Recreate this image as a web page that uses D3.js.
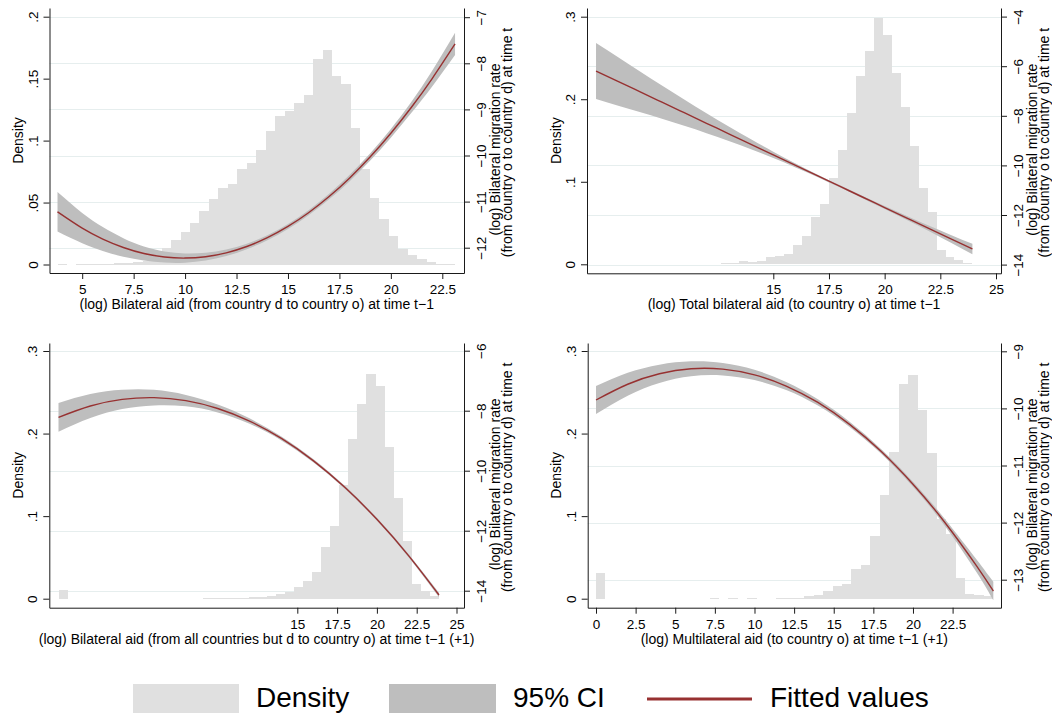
<!DOCTYPE html>
<html>
<head>
<meta charset="utf-8">
<script src="https://cdn.jsdelivr.net/npm/d3@7"></script>
<style>
  body { margin: 0; background: #fff; }
  svg { display: block; font-family: "Liberation Sans", Arial, Helvetica, sans-serif; }
  .axis path, .axis line { stroke: #1a1a1a; }
  .axis text { fill: #000; font-size: 13.5px; font-family: "Liberation Sans", Arial, sans-serif; }
  .title { fill: #000; font-size: 14px; }
  .legend { fill: #000; font-size: 28px; }
</style>
</head>
<body>
<svg id="chart" width="1052" height="713"></svg>
<script>
// histogram densities, 42 bins per panel
const bilatDensity = [0.0008, 0, 0.0008, 0.0003, 0.0005, 0.0008, 0.001, 0.0015, 0.002, 0.003, 0.0045, 0.013,
  0.0198, 0.0262, 0.0335, 0.0431, 0.0528, 0.0617, 0.065, 0.077, 0.0819, 0.0923, 0.108, 0.1198, 0.124, 0.130,
  0.1367, 0.166, 0.173, 0.152, 0.146, 0.110, 0.077, 0.0537, 0.0366, 0.023, 0.0128, 0.0077, 0.0044, 0.0017, 0.0007, 0.0007];
const bilatBinStart = 3.8, bilatBinWidth = 0.46;

const totalDensity = [0.0008, 0, 0, 0, 0, 0, 0, 0.0008, 0, 0, 0.0005, 0.0005, 0.0006, 0.0008, 0.0012, 0.002,
  0.004, 0.0032, 0.004, 0.0089, 0.0097, 0.0121, 0.023, 0.034, 0.057, 0.0727, 0.105, 0.139, 0.183, 0.228, 0.259,
  0.2986, 0.2776, 0.2315, 0.190, 0.1434, 0.0921, 0.0634, 0.0174, 0.0085, 0.0048, 0.0016];
const totalBinStart = 7.04, totalBinWidth = 0.4024;

const othersDensity = [0.0105, 0, 0, 0, 0, 0, 0, 0, 0, 0, 0, 0, 0, 0, 0, 0, 0.0004, 0.0004, 0.0005, 0.0008,
  0.0012, 0.0016, 0.0024, 0.0036, 0.0056, 0.008, 0.0141, 0.0218, 0.0327, 0.0625, 0.0884, 0.1376, 0.1933, 0.236,
  0.2724, 0.2579, 0.1836, 0.1223, 0.0702, 0.0182, 0.0093, 0.0028];
const othersBinStart = 0, othersBinWidth = 0.569;

const multiDensity = [0.0307, 0, 0, 0, 0, 0, 0, 0, 0, 0, 0, 0, 0.0006, 0, 0.0006, 0, 0.0006, 0, 0, 0.0005,
  0.0006, 0.0008, 0.003, 0.0048, 0.0089, 0.0157, 0.0178, 0.0363, 0.0404, 0.0755, 0.125, 0.178, 0.260, 0.271,
  0.229, 0.177, 0.0965, 0.0787, 0.025, 0.0056, 0.0044, 0.003];
const multiBinStart = 0, multiBinWidth = 0.597;

// fitted values and 95% CI (log migration rate)
const bilatFitX = [3.8, 5, 6, 7, 8, 9, 10, 11, 12, 13, 14, 15, 16, 17, 18, 19, 20, 21, 22, 23.12];
const bilatFit = [-11.221, -11.575, -11.812, -11.995, -12.125, -12.202, -12.225, -12.195, -12.111, -11.974,
  -11.783, -11.539, -11.242, -10.891, -10.487, -10.029, -9.518, -8.954, -8.336, -7.580];
const bilatLo = [-11.651, -11.905, -12.072, -12.195, -12.275, -12.322, -12.325, -12.280, -12.181, -12.034,
  -11.838, -11.594, -11.297, -10.951, -10.557, -10.109, -9.613, -9.074, -8.506, -7.820];
const bilatHi = [-10.791, -11.245, -11.552, -11.795, -11.975, -12.082, -12.125, -12.110, -12.041, -11.914,
  -11.728, -11.484, -11.187, -10.831, -10.417, -9.949, -9.423, -8.834, -8.166, -7.340];

const totalFitX = [7.04, 8, 9, 10, 11, 12, 13, 14, 15, 16, 17, 18, 19, 20, 21, 22, 23, 23.94];
const totalFit = [-6.194, -6.602, -7.026, -7.451, -7.876, -8.301, -8.725, -9.150, -9.575, -10.000, -10.424,
  -10.849, -11.274, -11.700, -12.123, -12.547, -12.972, -13.371];
const totalLo = [-7.324, -7.582, -7.846, -8.121, -8.406, -8.701, -9.015, -9.350, -9.705, -10.080, -10.474,
  -10.894, -11.324, -11.760, -12.203, -12.657, -13.132, -13.581];
const totalHi = [-5.064, -5.622, -6.206, -6.781, -7.346, -7.901, -8.435, -8.950, -9.445, -9.920, -10.374,
  -10.804, -11.224, -11.640, -12.043, -12.437, -12.812, -13.161];

const othersFitX = [0, 2, 4, 6, 8, 10, 12, 14, 16, 18, 20, 22, 23.9];
const othersFit = [-8.220, -7.842, -7.623, -7.565, -7.665, -7.926, -8.345, -8.925, -9.664, -10.563, -11.621, -12.839, -14.143];
const othersLo = [-8.700, -8.242, -7.943, -7.825, -7.855, -8.056, -8.435, -8.990, -9.719, -10.613, -11.671, -12.894, -14.218];
const othersHi = [-7.740, -7.442, -7.303, -7.305, -7.475, -7.796, -8.255, -8.860, -9.609, -10.513, -11.571, -12.784, -14.068];

const multiFitX = [0, 2, 4, 6, 8, 10, 12, 14, 16, 18, 20, 22, 24, 25.07];
const multiFit = [-9.853, -9.577, -9.394, -9.306, -9.313, -9.413, -9.608, -9.896, -10.279, -10.756, -11.328, -11.993, -12.753, -13.198];
const multiLo = [-10.098, -9.777, -9.554, -9.436, -9.423, -9.503, -9.678, -9.951, -10.324, -10.796, -11.373, -12.053, -12.863, -13.358];
const multiHi = [-9.608, -9.377, -9.234, -9.176, -9.203, -9.323, -9.538, -9.841, -10.234, -10.716, -11.283, -11.933, -12.643, -13.038];

// tick labels
const bilatXTicks = [5, 7.5, 10, 12.5, 15, 17.5, 20, 22.5];
const totalXTicks = [15, 17.5, 20, 22.5, 25];
const othersXTicks = [15, 17.5, 20, 22.5, 25];
const multiXTicks = [0, 2.5, 5, 7.5, 10, 12.5, 15, 17.5, 20, 22.5];
const densityTicksSmall = [0, 0.05, 0.1, 0.15, 0.2];
const densityTicks = [0, 0.1, 0.2, 0.3];
const bilatRateTicks = [-12, -11, -10, -9, -8, -7];
const totalRateTicks = [-14, -12, -10, -8, -6, -4];
const othersRateTicks = [-14, -12, -10, -8, -6];
const multiRateTicks = [-13, -12, -11, -10, -9];

const xTitles = [
  "(log) Bilateral aid (from country d to country o) at time t\u22121",
  "(log) Total bilateral aid (to country o) at time t\u22121",
  "(log) Bilateral aid (from all countries but d to country o) at time t\u22121 (+1)",
  "(log) Multilateral aid (to country o) at time t\u22121 (+1)"
];
const rateTitle = ["(log) Bilateral migration rate", "(from country o to country d) at time t"];

const barColor = "#e0e0e0";
const bandColor = "#bebebe";
const lineColor = "#973131";
const gridColor = "#e6eeee";

const svg = d3.select("#chart");

// tick formats: 0, .05, .1 ... / −12 ... / 7.5 ...
const fmtDensity = d => d === 0 ? "0" : String(d).replace(/^0/, "");
const fmtRate = d => d < 0 ? "\u2212" + Math.abs(d) : String(d);
const fmtAid = d => String(d);

// scale from two anchor points, stretched to the frame
function anchored(v0, p0, v1, p1, a, b) {
  const s = d3.scaleLinear().domain([v0, v1]).range([p0, p1]);
  return d3.scaleLinear().domain([s.invert(a), s.invert(b)]).range([a, b]);
}

function drawPanel(p) {
  const g = svg.append("g");
  const x = anchored(p.xa[0], p.xa[1], p.xa[2], p.xa[3], p.left, p.right);
  const y = anchored(p.ya[0], p.ya[1], p.ya[2], p.ya[3], p.bottom, p.top);
  const y2 = anchored(p.y2a[0], p.y2a[1], p.y2a[2], p.y2a[3], p.bottom, p.top);

  // grid on the right axis ticks
  g.selectAll(".grid")
    .data(p.rateTicks)
    .enter()
    .append("line")
    .attr("x1", p.left)
    .attr("x2", p.right)
    .attr("y1", d => Math.round(y2(d)) + 0.5)
    .attr("y2", d => Math.round(y2(d)) + 0.5)
    .attr("stroke", gridColor)
    .attr("stroke-width", 1.2);

  // histogram
  const bins = p.density.map((d, i) => ({
    x0: p.binStart + i * p.binWidth,
    x1: p.binStart + (i + 1) * p.binWidth,
    d: d
  })).filter(b => b.d > 0);

  g.selectAll(".bar")
    .data(bins)
    .enter()
    .append("rect")
    .attr("x", b => x(b.x0))
    .attr("width", b => x(b.x1) - x(b.x0))
    .attr("y", b => y(b.d))
    .attr("height", b => y(0) - y(b.d))
    .attr("fill", barColor)
    .attr("shape-rendering", "crispEdges");

  // CI band and fitted line
  const pts = p.fitX.map((v, i) => ({ x: v, fit: p.fit[i], lo: p.lo[i], hi: p.hi[i] }));

  g.append("path")
    .datum(pts)
    .attr("fill", bandColor)
    .attr("d", d3.area().curve(d3.curveNatural)
      .x(d => x(d.x)).y0(d => y2(d.lo)).y1(d => y2(d.hi)));

  g.append("path")
    .datum(pts)
    .attr("fill", "none")
    .attr("stroke", lineColor)
    .attr("stroke-width", 1.4)
    .attr("d", d3.line().curve(d3.curveNatural)
      .x(d => x(d.x)).y(d => y2(d.fit)));

  // axes
  const gx = g.append("g")
    .attr("class", "axis")
    .attr("transform", `translate(0,${p.bottom})`)
    .call(d3.axisBottom(x).tickValues(p.xTicks).tickFormat(fmtAid).tickSize(6).tickSizeOuter(0));
  gx.selectAll("text").attr("y", 21).attr("dy", 0);

  const gy = g.append("g")
    .attr("class", "axis")
    .attr("transform", `translate(${p.left},0)`)
    .call(d3.axisLeft(y).tickValues(p.densityTicks).tickFormat(fmtDensity).tickSize(6).tickSizeOuter(0));
  gy.selectAll("text")
    .attr("transform", "rotate(-90)")
    .attr("x", 0).attr("y", -12).attr("dy", 0)
    .attr("text-anchor", "middle");

  const gy2 = g.append("g")
    .attr("class", "axis")
    .attr("transform", `translate(${p.right},0)`)
    .call(d3.axisRight(y2).tickValues(p.rateTicks).tickFormat(fmtRate).tickSize(6).tickSizeOuter(0));
  gy2.selectAll("text")
    .attr("transform", "rotate(-90)")
    .attr("x", 0).attr("y", 22).attr("dy", 0)
    .attr("text-anchor", "middle");

  // titles
  const midY = (p.top + p.bottom) / 2;
  g.append("text")
    .attr("class", "title")
    .attr("x", (p.left + p.right) / 2)
    .attr("y", p.bottom + 36)
    .attr("text-anchor", "middle")
    .text(p.xTitle);

  g.append("text")
    .attr("class", "title")
    .attr("transform", `translate(${p.left - 26.5},${midY}) rotate(-90)`)
    .attr("text-anchor", "middle")
    .text("Density");

  // two-line right title, first line sits a bit lower
  rateTitle.forEach((t, i) => {
    g.append("text")
      .attr("class", "title")
      .attr("transform", `translate(${p.right + 35.5 + i * 12.5},${midY + (i === 0 ? 9 : 2)}) rotate(-90)`)
      .attr("text-anchor", "middle")
      .text(t);
  });
}

const panels = [
  { density: bilatDensity, binStart: bilatBinStart, binWidth: bilatBinWidth,
    fitX: bilatFitX, fit: bilatFit, lo: bilatLo, hi: bilatHi,
    xTicks: bilatXTicks, densityTicks: densityTicksSmall, rateTicks: bilatRateTicks, xTitle: xTitles[0],
    left: 49.5, right: 464, top: 8, bottom: 273,
    xa: [5, 82.2, 22.5, 442.3], ya: [0, 264.5, 0.2, 16.7], y2a: [-12, 247.7, -8, 63.3] },
  { density: totalDensity, binStart: totalBinStart, binWidth: totalBinWidth,
    fitX: totalFitX, fit: totalFit, lo: totalLo, hi: totalHi,
    xTicks: totalXTicks, densityTicks: densityTicks, rateTicks: totalRateTicks, xTitle: xTitles[1],
    left: 587, right: 1001, top: 8, bottom: 273.3,
    xa: [15, 773.3, 25, 996], ya: [0, 264.3, 0.3, 16.7], y2a: [-14, 264.6, -4, 16.6] },
  { density: othersDensity, binStart: othersBinStart, binWidth: othersBinWidth,
    fitX: othersFitX, fit: othersFit, lo: othersLo, hi: othersHi,
    xTicks: othersXTicks, densityTicks: densityTicks, rateTicks: othersRateTicks, xTitle: xTitles[2],
    left: 49.3, right: 464, top: 343, bottom: 607.7,
    xa: [0, 58.5, 25, 456.5], ya: [0, 598.7, 0.3, 351], y2a: [-14, 590.7, -6, 350.7] },
  { density: multiDensity, binStart: multiBinStart, binWidth: multiBinWidth,
    fitX: multiFitX, fit: multiFit, lo: multiLo, hi: multiHi,
    xTicks: multiXTicks, densityTicks: densityTicks, rateTicks: multiRateTicks, xTitle: xTitles[3],
    left: 587.7, right: 1001, top: 343, bottom: 607.7,
    xa: [0, 596, 22.5, 952.6], ya: [0, 598.7, 0.3, 351], y2a: [-13, 579.7, -9, 351.3] }
];

panels.forEach(drawPanel);

// legend
const legend = svg.append("g");
legend.append("rect").attr("x", 133).attr("y", 684).attr("width", 106).attr("height", 30).attr("fill", barColor);
legend.append("text").attr("class", "legend").attr("x", 256).attr("y", 707).text("Density");
legend.append("rect").attr("x", 389).attr("y", 684).attr("width", 107).attr("height", 30).attr("fill", bandColor);
legend.append("text").attr("class", "legend").attr("x", 513).attr("y", 707).text("95% CI");
legend.append("line").attr("x1", 647).attr("x2", 752).attr("y1", 699).attr("y2", 699)
  .attr("stroke", lineColor).attr("stroke-width", 2.8);
legend.append("text").attr("class", "legend").attr("x", 770).attr("y", 707).text("Fitted values");
</script>
</body>
</html>
